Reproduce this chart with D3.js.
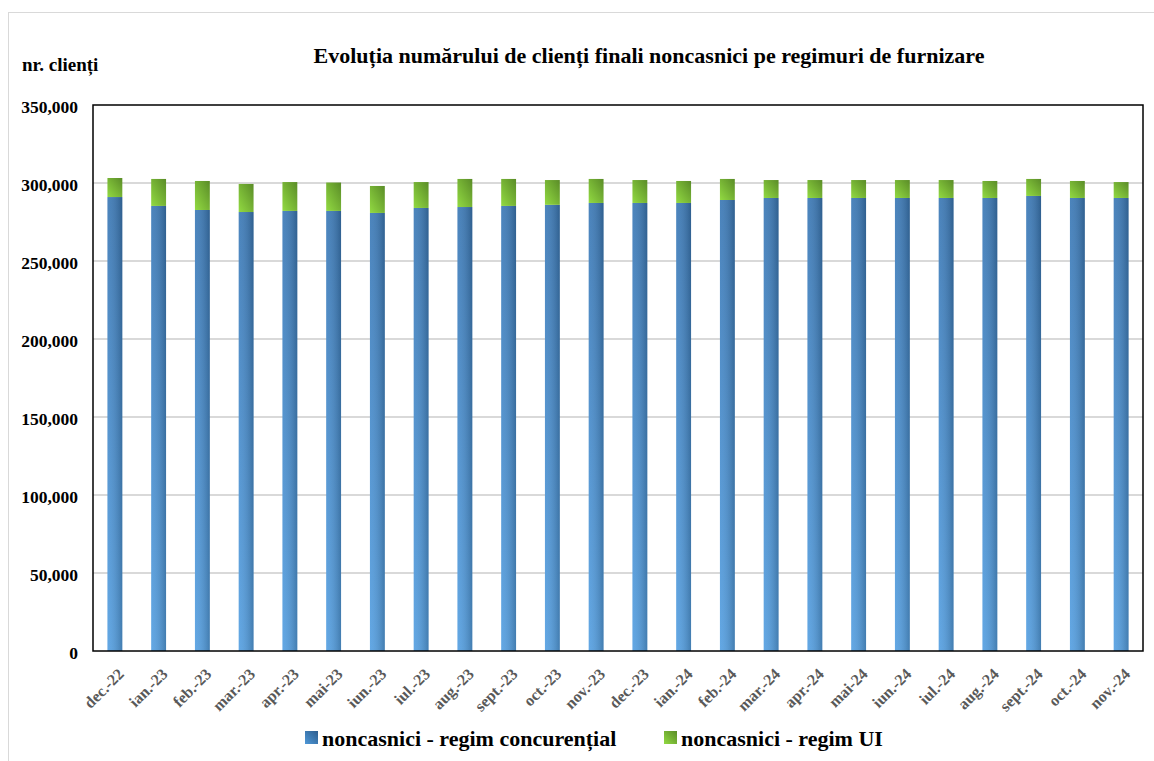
<!DOCTYPE html>
<html><head><meta charset="utf-8">
<script src="https://cdn.jsdelivr.net/npm/d3@7"></script>
<style>body{margin:0;background:#fff}svg{display:block}
svg text{font-family:"Liberation Serif","Times New Roman",Times,serif;font-weight:bold}</style>
</head><body>
<svg id="c" width="1154" height="761"></svg>
<script>
const months = ["dec.-22","ian.-23","feb.-23","mar.-23","apr.-23","mai-23","iun.-23","iul.-23","aug.-23","sept.-23","oct.-23","nov.-23","dec.-23","ian.-24","feb.-24","mar.-24","apr.-24","mai-24","iun.-24","iul.-24","aug.-24","sept.-24","oct.-24","nov.-24"];
const concurential = [291000,285300,282700,281400,282100,282100,280800,284000,284600,285300,286000,287200,287200,287200,289100,290400,290400,290400,290400,290400,290400,291700,290400,290400];
const regimUI = [12200,17300,18600,18000,18500,18200,17300,16600,18000,17300,15900,15400,14700,14100,13500,11500,11500,11500,11500,11500,10900,10900,10900,10200];
const yTicks = [0,50000,100000,150000,200000,250000,300000,350000];
const seriesNames = ["noncasnici - regim concurențial","noncasnici - regim UI"];
const titleText = "Evoluția numărului de clienți finali noncasnici pe regimuri de furnizare";
const yAxisTitle = "nr. clienți";

const svg = d3.select("#c");
const L=93, R=1143, T=105, B=651;

const defs = svg.append("defs");
const gb = defs.append("linearGradient").attr("id","gBlueV").attr("gradientUnits","userSpaceOnUse")
  .attr("x1",0).attr("y1",B).attr("x2",0).attr("y2",180);
gb.append("stop").attr("offset","0").attr("stop-color","#55a0e2");
gb.append("stop").attr("offset","1").attr("stop-color","#3a77b4");
const gh = defs.append("linearGradient").attr("id","gShade").attr("x1",0).attr("y1",0).attr("x2",1).attr("y2",0);
gh.append("stop").attr("offset","0").attr("stop-color","#ffffff").attr("stop-opacity",0.08);
gh.append("stop").attr("offset","1").attr("stop-color","#000000").attr("stop-opacity",0.22);
const gg = defs.append("linearGradient").attr("id","gGreen").attr("x1",0).attr("y1",1).attr("x2",1).attr("y2",0);
gg.append("stop").attr("offset","0").attr("stop-color","#92da42");
gg.append("stop").attr("offset","1").attr("stop-color","#5a8c27");
const gbl = defs.append("linearGradient").attr("id","gBlueL").attr("x1",0).attr("y1",1).attr("x2",1).attr("y2",0);
gbl.append("stop").attr("offset","0").attr("stop-color","#4f98d8");
gbl.append("stop").attr("offset","1").attr("stop-color","#2d5d8e");

// outer frame
svg.append("rect").attr("x",8.5).attr("y",12.5).attr("width",1160).attr("height",770)
  .attr("fill","none").attr("stroke","#d9d9d9");

const x = d3.scaleBand().domain(months).range([L,R]).paddingInner(0.66).paddingOuter(0.33);
const y = d3.scaleLinear().domain([0,350000]).range([B,T]);

// gridlines
svg.append("g").selectAll("line").data(yTicks.filter(d=>d>0&&d<350000)).join("line")
  .attr("x1",L).attr("x2",R).attr("y1",d=>y(d)).attr("y2",d=>y(d))
  .attr("stroke","#d9d9d9").attr("stroke-width",2);

// bars
const data = months.map((m,i)=>({m, c:concurential[i], u:regimUI[i]}));
const g = svg.append("g");
g.selectAll("rect.c").data(data).join("rect").attr("class","c")
  .attr("x",d=>x(d.m)).attr("width",x.bandwidth())
  .attr("y",d=>y(d.c)).attr("height",d=>y(0)-y(d.c)).attr("fill","url(#gBlueV)");
g.selectAll("rect.cs").data(data).join("rect").attr("class","cs")
  .attr("x",d=>x(d.m)).attr("width",x.bandwidth())
  .attr("y",d=>y(d.c)).attr("height",d=>y(0)-y(d.c)).attr("fill","url(#gShade)");
g.selectAll("rect.u").data(data).join("rect").attr("class","u")
  .attr("x",d=>x(d.m)).attr("width",x.bandwidth())
  .attr("y",d=>y(d.c+d.u)).attr("height",d=>y(d.c)-y(d.c+d.u)).attr("fill","url(#gGreen)");

// plot border
svg.append("rect").attr("x",L).attr("y",T).attr("width",R-L).attr("height",B-T)
  .attr("fill","none").attr("stroke","#000").attr("stroke-width",1.5);

// y axis labels
const yAxis = d3.axisLeft(y).tickValues(yTicks).tickFormat(d3.format(",")).tickSize(0).tickPadding(15);
const ya = svg.append("g").attr("transform",`translate(${L},0)`).call(yAxis);
ya.select(".domain").remove();
ya.attr("font-family",null).attr("font-size",null);
ya.selectAll("text").style("font-size","17.5px").attr("fill","#000").attr("dy","0.42em");

// x axis labels
const xAxis = d3.axisBottom(x).tickSize(0).tickPadding(0);
const xa = svg.append("g").attr("transform",`translate(0,${B})`).call(xAxis);
xa.select(".domain").remove();
xa.attr("font-family",null).attr("font-size",null);
xa.selectAll("text").style("font-size","16px")
  .attr("fill","#595959").attr("text-anchor","end").attr("y",0).attr("dy",0)
  .attr("transform","translate(10,24) rotate(-45)");

// titles
svg.append("text").attr("x",649).attr("y",63).attr("text-anchor","middle")
  .style("font-size","22px").text(titleText);
svg.append("text").attr("x",22).attr("y",71).style("font-size","19px").text(yAxisTitle);

// legend
const lg = svg.append("g");
const lx = [305,664], fills=["url(#gBlueL)","url(#gGreen)"];
seriesNames.forEach((s,i)=>{
  lg.append("rect").attr("x",lx[i]).attr("y",731).attr("width",13).attr("height",13).attr("fill",fills[i]);
  lg.append("text").attr("x",lx[i]+17).attr("y",746).style("font-size","22px").attr("fill","#000").text(s);
});
</script>
</body></html>
